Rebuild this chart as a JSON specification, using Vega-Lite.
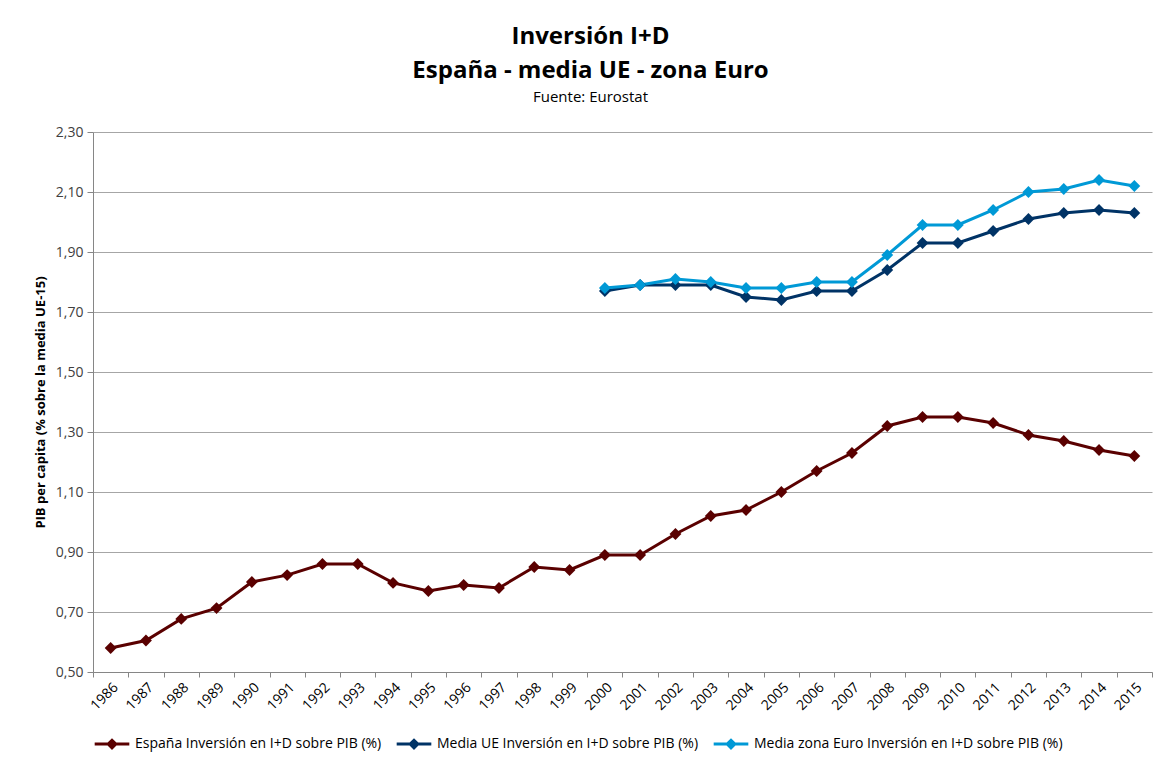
{
  "$schema": "https://vega.github.io/schema/vega-lite/v6.json",
  "autosize": {"type": "none"},
  "padding": {"left": 93, "top": 132, "right": 11, "bottom": 91},
  "width": 1059,
  "height": 540,
  "background": "white",
  "config": {
    "locale": {"number": {"decimal": ",", "thousands": ".", "grouping": [3], "currency": ["", " €"]}},
    "font": "Open Sans",
    "view": {"stroke": null}
  },
  "title": {
    "text": ["Inversión I+D", "España - media UE - zona Euro"],
    "subtitle": "Fuente: Eurostat",
    "anchor": "middle",
    "dx": -32,
    "font": "Open Sans",
    "fontSize": 24,
    "fontWeight": "bold",
    "lineHeight": 34,
    "color": "#000000",
    "subtitleFont": "Open Sans",
    "subtitleFontSize": 15,
    "subtitleColor": "#000000",
    "subtitlePadding": 7,
    "offset": 20
  },
  "data": {
    "values": [
      {"year": "1986", "serie": "España Inversión en I+D sobre PIB (%)", "valor": 0.58},
      {"year": "1987", "serie": "España Inversión en I+D sobre PIB (%)", "valor": 0.605},
      {"year": "1988", "serie": "España Inversión en I+D sobre PIB (%)", "valor": 0.677},
      {"year": "1989", "serie": "España Inversión en I+D sobre PIB (%)", "valor": 0.713},
      {"year": "1990", "serie": "España Inversión en I+D sobre PIB (%)", "valor": 0.80},
      {"year": "1991", "serie": "España Inversión en I+D sobre PIB (%)", "valor": 0.823},
      {"year": "1992", "serie": "España Inversión en I+D sobre PIB (%)", "valor": 0.86},
      {"year": "1993", "serie": "España Inversión en I+D sobre PIB (%)", "valor": 0.86},
      {"year": "1994", "serie": "España Inversión en I+D sobre PIB (%)", "valor": 0.797},
      {"year": "1995", "serie": "España Inversión en I+D sobre PIB (%)", "valor": 0.77},
      {"year": "1996", "serie": "España Inversión en I+D sobre PIB (%)", "valor": 0.79},
      {"year": "1997", "serie": "España Inversión en I+D sobre PIB (%)", "valor": 0.78},
      {"year": "1998", "serie": "España Inversión en I+D sobre PIB (%)", "valor": 0.85},
      {"year": "1999", "serie": "España Inversión en I+D sobre PIB (%)", "valor": 0.84},
      {"year": "2000", "serie": "España Inversión en I+D sobre PIB (%)", "valor": 0.89},
      {"year": "2001", "serie": "España Inversión en I+D sobre PIB (%)", "valor": 0.89},
      {"year": "2002", "serie": "España Inversión en I+D sobre PIB (%)", "valor": 0.96},
      {"year": "2003", "serie": "España Inversión en I+D sobre PIB (%)", "valor": 1.02},
      {"year": "2004", "serie": "España Inversión en I+D sobre PIB (%)", "valor": 1.04},
      {"year": "2005", "serie": "España Inversión en I+D sobre PIB (%)", "valor": 1.10},
      {"year": "2006", "serie": "España Inversión en I+D sobre PIB (%)", "valor": 1.17},
      {"year": "2007", "serie": "España Inversión en I+D sobre PIB (%)", "valor": 1.23},
      {"year": "2008", "serie": "España Inversión en I+D sobre PIB (%)", "valor": 1.32},
      {"year": "2009", "serie": "España Inversión en I+D sobre PIB (%)", "valor": 1.35},
      {"year": "2010", "serie": "España Inversión en I+D sobre PIB (%)", "valor": 1.35},
      {"year": "2011", "serie": "España Inversión en I+D sobre PIB (%)", "valor": 1.33},
      {"year": "2012", "serie": "España Inversión en I+D sobre PIB (%)", "valor": 1.29},
      {"year": "2013", "serie": "España Inversión en I+D sobre PIB (%)", "valor": 1.27},
      {"year": "2014", "serie": "España Inversión en I+D sobre PIB (%)", "valor": 1.24},
      {"year": "2015", "serie": "España Inversión en I+D sobre PIB (%)", "valor": 1.22},
      {"year": "2000", "serie": "Media UE Inversión en I+D sobre PIB (%)", "valor": 1.77},
      {"year": "2001", "serie": "Media UE Inversión en I+D sobre PIB (%)", "valor": 1.79},
      {"year": "2002", "serie": "Media UE Inversión en I+D sobre PIB (%)", "valor": 1.79},
      {"year": "2003", "serie": "Media UE Inversión en I+D sobre PIB (%)", "valor": 1.79},
      {"year": "2004", "serie": "Media UE Inversión en I+D sobre PIB (%)", "valor": 1.75},
      {"year": "2005", "serie": "Media UE Inversión en I+D sobre PIB (%)", "valor": 1.74},
      {"year": "2006", "serie": "Media UE Inversión en I+D sobre PIB (%)", "valor": 1.77},
      {"year": "2007", "serie": "Media UE Inversión en I+D sobre PIB (%)", "valor": 1.77},
      {"year": "2008", "serie": "Media UE Inversión en I+D sobre PIB (%)", "valor": 1.84},
      {"year": "2009", "serie": "Media UE Inversión en I+D sobre PIB (%)", "valor": 1.93},
      {"year": "2010", "serie": "Media UE Inversión en I+D sobre PIB (%)", "valor": 1.93},
      {"year": "2011", "serie": "Media UE Inversión en I+D sobre PIB (%)", "valor": 1.97},
      {"year": "2012", "serie": "Media UE Inversión en I+D sobre PIB (%)", "valor": 2.01},
      {"year": "2013", "serie": "Media UE Inversión en I+D sobre PIB (%)", "valor": 2.03},
      {"year": "2014", "serie": "Media UE Inversión en I+D sobre PIB (%)", "valor": 2.04},
      {"year": "2015", "serie": "Media UE Inversión en I+D sobre PIB (%)", "valor": 2.03},
      {"year": "2000", "serie": "Media zona Euro Inversión en I+D sobre PIB (%)", "valor": 1.78},
      {"year": "2001", "serie": "Media zona Euro Inversión en I+D sobre PIB (%)", "valor": 1.79},
      {"year": "2002", "serie": "Media zona Euro Inversión en I+D sobre PIB (%)", "valor": 1.81},
      {"year": "2003", "serie": "Media zona Euro Inversión en I+D sobre PIB (%)", "valor": 1.80},
      {"year": "2004", "serie": "Media zona Euro Inversión en I+D sobre PIB (%)", "valor": 1.78},
      {"year": "2005", "serie": "Media zona Euro Inversión en I+D sobre PIB (%)", "valor": 1.78},
      {"year": "2006", "serie": "Media zona Euro Inversión en I+D sobre PIB (%)", "valor": 1.80},
      {"year": "2007", "serie": "Media zona Euro Inversión en I+D sobre PIB (%)", "valor": 1.80},
      {"year": "2008", "serie": "Media zona Euro Inversión en I+D sobre PIB (%)", "valor": 1.89},
      {"year": "2009", "serie": "Media zona Euro Inversión en I+D sobre PIB (%)", "valor": 1.99},
      {"year": "2010", "serie": "Media zona Euro Inversión en I+D sobre PIB (%)", "valor": 1.99},
      {"year": "2011", "serie": "Media zona Euro Inversión en I+D sobre PIB (%)", "valor": 2.04},
      {"year": "2012", "serie": "Media zona Euro Inversión en I+D sobre PIB (%)", "valor": 2.10},
      {"year": "2013", "serie": "Media zona Euro Inversión en I+D sobre PIB (%)", "valor": 2.11},
      {"year": "2014", "serie": "Media zona Euro Inversión en I+D sobre PIB (%)", "valor": 2.14},
      {"year": "2015", "serie": "Media zona Euro Inversión en I+D sobre PIB (%)", "valor": 2.12}
    ]
  },
  "encoding": {
    "x": {
      "field": "year",
      "type": "ordinal",
      "bandPosition": 0.5,
      "scale": {"type": "band", "paddingInner": 0, "paddingOuter": 0},
      "axis": {
        "title": null,
        "labelAngle": -45,
        "labelFontSize": 14,
        "labelColor": "#000000",
        "labelFont": "Open Sans",
        "tickBand": "extent",
        "tickColor": "#868686",
        "tickSize": 5,
        "domainColor": "#868686",
        "grid": false,
        "labelPadding": 3
      }
    },
    "y": {
      "field": "valor",
      "type": "quantitative",
      "scale": {"domain": [0.5, 2.3], "nice": false, "zero": false},
      "axis": {
        "title": "PIB per capita (% sobre la media UE-15)",
        "titleFont": "Open Sans",
        "titleFontSize": 13,
        "titleFontWeight": "bold",
        "titleColor": "#000000",
        "titlePadding": 8,
        "values": [0.5, 0.7, 0.9, 1.1, 1.3, 1.5, 1.7, 1.9, 2.1, 2.3],
        "format": ".2f",
        "labelFontSize": 14,
        "labelColor": "#404040",
        "labelFont": "Open Sans",
        "gridColor": "#A6A6A6",
        "gridWidth": 1,
        "tickColor": "#868686",
        "tickSize": 6,
        "domainColor": "#868686",
        "labelPadding": 4
      }
    },
    "color": {
      "field": "serie",
      "type": "nominal",
      "scale": {
        "domain": ["España Inversión en I+D sobre PIB (%)", "Media UE Inversión en I+D sobre PIB (%)", "Media zona Euro Inversión en I+D sobre PIB (%)"],
        "range": ["#5A0000", "#003366", "#0099D6"]
      },
      "legend": {
        "title": null,
        "orient": "bottom",
        "direction": "horizontal",
        "columns": 3,
        "labelFontSize": 14,
        "labelFont": "Open Sans",
        "labelColor": "#000000",
        "labelLimit": 400,
        "labelOffset": 4,
        "symbolType": "M -1 0 L 1 0 M -0.22 0 L 0 -0.22 L 0.22 0 L 0 0.22 Z",
        "symbolSize": 1200,
        "symbolStrokeWidth": 3,
        "columnPadding": 8,
        "offset": 12
      }
    }
  },
  "layer": [
    {"mark": {"type": "line", "strokeWidth": 3}},
    {"mark": {"type": "point", "shape": "diamond", "filled": true, "size": 140, "opacity": 1}}
  ]
}
